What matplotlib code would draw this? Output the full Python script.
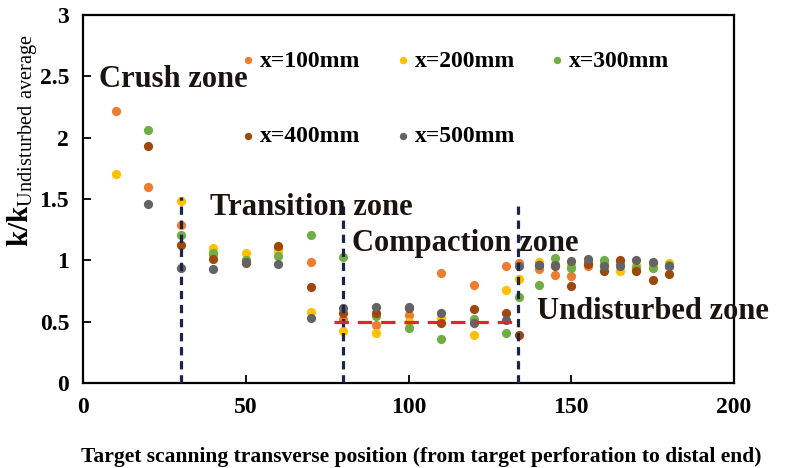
import numpy as np
import matplotlib
matplotlib.use('Agg')
import matplotlib.pyplot as plt

plt.rcParams['font.family'] = ['Liberation Serif', 'DejaVu Serif']
plt.rcParams['mathtext.fontset'] = 'custom'
plt.rcParams['mathtext.rm'] = 'Liberation Serif'
plt.rcParams['mathtext.bf'] = 'Liberation Serif:bold'

nan = np.nan

# scan positions along the target (shared by all series)
positions = [10, 20, 30, 40, 50, 60, 70, 80, 90, 100, 110, 120, 130, 134,
             140, 145, 150, 155, 160, 165, 170, 175, 180]

# normalised permeability k/k_undisturbed for each radial distance
k_100 = [2.22, 1.595, 1.29, 1.05, 1.00, 1.10, 0.99, 0.52, 0.47, 0.555, 0.90, 0.80, 0.955, 0.98,
         0.93, 0.88, 0.87, 0.95, 0.97, 0.97, 0.95, 0.97, 0.95]
k_200 = [1.70, nan, 1.48, 1.10, 1.06, 1.08, 0.58, 0.42, 0.405, 0.50, 0.53, 0.39, 0.76, 0.845,
         0.99, 0.97, 0.96, 0.97, 0.95, 0.91, 0.95, 0.95, 0.975]
k_300 = [nan, 2.06, 1.21, 1.06, 1.00, 1.035, 1.21, 1.03, 0.55, 0.445, 0.36, 0.52, 0.41, 0.70,
         0.80, 1.015, 0.94, 0.98, 1.00, 0.97, 0.935, 0.935, 0.96]
k_400 = [nan, 1.93, 1.125, 1.01, 0.975, 1.12, 0.785, 0.57, 0.57, 0.61, 0.49, 0.60, 0.57, 0.39,
         0.96, 0.95, 0.79, 0.97, 0.91, 1.00, 0.91, 0.84, 0.89]
k_500 = [nan, 1.456, 0.94, 0.93, 0.99, 0.97, 0.53, 0.61, 0.62, 0.62, 0.57, 0.49, 0.51, 0.955,
         0.96, 0.96, 0.995, 1.01, 0.955, 0.95, 1.00, 0.99, 0.955]

series_labels = ['x=100mm', 'x=200mm', 'x=300mm', 'x=400mm', 'x=500mm']
series_colors = ['#ED7D31', '#FFC000', '#70AD47', '#9E480E', '#636363']

# zone boundaries and their heights
boundaries = [30, 80, 133.5]
boundary_tops = [1.52, 1.48, 1.45]
compaction_span = [77, 132]
compaction_level = 0.5

zone_names = ['Crush zone', 'Transition zone', 'Compaction zone', 'Undisturbed zone']
zone_xy = [(5, 2.47), (39, 1.43), (82.5, 1.14), (139.5, 0.585)]

fig = plt.figure(figsize=(7.87, 4.68), dpi=100)
ax = fig.add_axes([0.1055, 0.1816, 0.8272, 0.7864])

handles = []
for k, lab, col in zip([k_100, k_200, k_300, k_400, k_500], series_labels, series_colors):
    h = ax.scatter(positions, k, s=44, color=col, label=lab, zorder=3, linewidths=0)
    handles.append(h)

for xb, top in zip(boundaries, boundary_tops):
    ax.plot([xb, xb], [0, top], color='#1C2448', lw=2.3, dashes=(2.6, 1.8), zorder=4)

ax.plot(compaction_span, [compaction_level] * 2, color='#E3242B', lw=2.3,
        dashes=(4.5, 2.8), zorder=4)

for name, (zx, zy) in zip(zone_names, zone_xy):
    ax.text(zx, zy, name, fontsize=22, fontweight='bold', color='#1a1410',
            va='center', ha='left', clip_on=False, zorder=5)

ax.set_xlim(0, 200)
ax.set_ylim(0, 3)
ax.set_xticks([0, 50, 100, 150, 200])
ax.set_yticks([0, 0.5, 1, 1.5, 2, 2.5, 3])
ax.set_yticklabels(['0', '0.5', '1', '1.5', '2', '2.5', '3'])
ax.tick_params(direction='in', length=6, width=1.3, labelsize=17, pad=10)
for lab in ax.get_xticklabels() + ax.get_yticklabels():
    lab.set_fontweight('bold')
for sp in ax.spines.values():
    sp.set_linewidth(1.6)

ax.set_xlabel('Target scanning transverse position (from target perforation to distal end)',
              fontsize=15.5, fontweight='bold')
ax.xaxis.set_label_coords(0.52, -0.175)
ax.set_ylabel(r'$\mathbf{k/k}_{\mathrm{Undisturbed\ average}}$', fontsize=21)
ax.yaxis.set_label_coords(-0.065, 0.66)

# legend filled column by column, so reorder to read 100/200/300 across the first row
order = [0, 3, 1, 4, 2]
leg = ax.legend([handles[i] for i in order], [series_labels[i] for i in order],
                loc='upper left', bbox_to_anchor=(241 / 787, 1 - 50 / 468),
                bbox_transform=fig.transFigure, ncol=3, frameon=False,
                prop={'size': 17, 'weight': 'bold'}, markerscale=0.8,
                handlelength=0.6, handletextpad=0.2, columnspacing=1.5,
                labelspacing=2.3, borderpad=0, borderaxespad=0)

fig.savefig('out.png', dpi=100)
